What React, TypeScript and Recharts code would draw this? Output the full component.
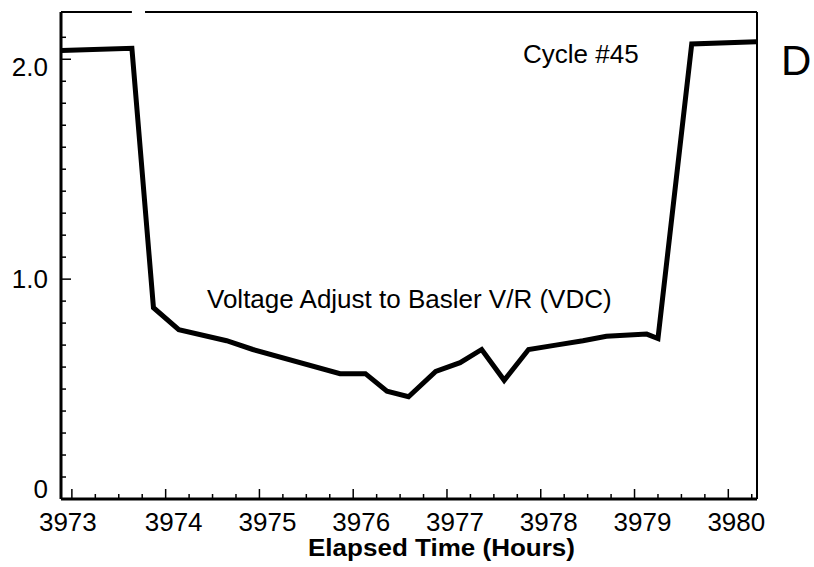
import React from "react";
import { LineChart, Line, XAxis, YAxis, ReferenceLine } from "recharts";

const hours = [3972.89, 3973.64, 3973.87, 3974.14, 3974.65, 3974.93, 3975.86, 3976.13, 3976.36, 3976.59, 3976.88, 3977.14, 3977.37, 3977.61, 3977.87, 3978.16, 3978.45, 3978.7, 3979.13, 3979.25, 3979.61, 3980.3];
const volts = [2.04, 2.05, 0.87, 0.77, 0.72, 0.68, 0.57, 0.57, 0.49, 0.465, 0.58, 0.62, 0.68, 0.54, 0.68, 0.7, 0.72, 0.74, 0.75, 0.73, 2.07, 2.08];

const xTicks = Array.from({ length: 30 }, (_, i) => 3973 + i * 0.25);
const yTicks = Array.from({ length: 22 }, (_, i) => Math.round(i * 10) / 100);
const xTickLabels: Record<number, string> = { 3973: "3973", 3974: "3974", 3975: "3975", 3976: "3976", 3977: "3977", 3978: "3978", 3979: "3979", 3980: "3980" };
const yTickLabels: Record<number, string> = { 0: "0", 1: "1.0", 2: "2.0" };

const data = hours.map((h, i) => ({ h, v: volts[i] }));

const X_MIN = 3972.884;
const X_MAX = 3980.306;
const Y_MIN = 0;
const Y_MAX = 2.215;
const FONT = "'Liberation Sans', Arial, Helvetica, sans-serif";

const XTick = (props: any) => {
  const { x, y, payload } = props;
  const v = payload.value;
  const major = Math.abs(v - Math.round(v)) < 1e-6;
  const label = major ? xTickLabels[Math.round(v)] : undefined;
  return (
    <g>
      <line x1={x} x2={x} y1={y} y2={y - (major ? 10 : 5)} stroke="#000" strokeWidth={1.5} />
      {label && (
        <text x={x + (Math.round(v) === 3973 ? -4 : 8)} y={y + 32} textAnchor="middle" fontSize={26} fontFamily={FONT} fill="#000">
          {label}
        </text>
      )}
    </g>
  );
};

const YTick = (props: any) => {
  const { x, y, payload } = props;
  const v = payload.value;
  const major = Math.abs(v - Math.round(v)) < 1e-6;
  const label = major ? yTickLabels[Math.round(v)] : undefined;
  const dy = Math.round(v) === 0 ? -10 : Math.round(v) === 2 ? 8 : 0;
  return (
    <g>
      <line x1={x} x2={x + (major ? 10 : 5)} y1={y} y2={y} stroke="#000" strokeWidth={1.5} />
      {label && (
        <text x={x - 13} y={y + dy + 9} textAnchor="end" fontSize={26} fontFamily={FONT} fill="#000">
          {label}
        </text>
      )}
    </g>
  );
};

export default function App() {
  return (
    <div style={{ position: "absolute", left: 0, top: 0, width: 814, height: 567, background: "#fff" }}>
      <LineChart width={814} height={567} data={data} margin={{ top: 12, right: 57, bottom: 0, left: 0 }}>
        <XAxis
          dataKey="h"
          type="number"
          domain={[X_MIN, X_MAX]}
          allowDataOverflow
          ticks={xTicks}
          interval={0}
          height={68}
          tickSize={0}
          tickMargin={0}
          tickLine={false}
          axisLine={{ stroke: "#000", strokeWidth: 3 }}
          tick={<XTick />}
        />
        <YAxis
          type="number"
          domain={[Y_MIN, Y_MAX]}
          allowDataOverflow
          ticks={yTicks}
          interval={0}
          width={61}
          tickSize={0}
          tickMargin={0}
          tickLine={false}
          axisLine={{ stroke: "#000", strokeWidth: 3 }}
          tick={<YTick />}
        />
        <ReferenceLine segment={[{ x: X_MIN, y: Y_MAX }, { x: 3973.64, y: Y_MAX }]} stroke="#000" strokeWidth={2} />
        <ReferenceLine segment={[{ x: 3973.78, y: Y_MAX }, { x: X_MAX, y: Y_MAX }]} stroke="#000" strokeWidth={2} />
        <ReferenceLine x={X_MAX} stroke="#000" strokeWidth={2} />
        <Line
          dataKey="v"
          stroke="#000"
          strokeWidth={5}
          dot={false}
          activeDot={false}
          isAnimationActive={false}
          strokeLinejoin="miter"
        />
      </LineChart>
      <svg width={814} height={567} style={{ position: "absolute", left: 0, top: 0, pointerEvents: "none" }}>
        <text x={523} y={63} fontSize={26} fontFamily={FONT} fill="#000">Cycle #45</text>
        <text x={781} y={75} fontSize={42} fontFamily={FONT} fill="#000">D</text>
        <text x={207} y={308} fontSize={26} fontFamily={FONT} fill="#000">Voltage Adjust to Basler V/R (VDC)</text>
        <text x={308} y={556} fontSize={23} fontWeight="bold" fontFamily={FONT} fill="#000" textLength={267} lengthAdjust="spacingAndGlyphs">Elapsed Time (Hours)</text>
      </svg>
    </div>
  );
}
